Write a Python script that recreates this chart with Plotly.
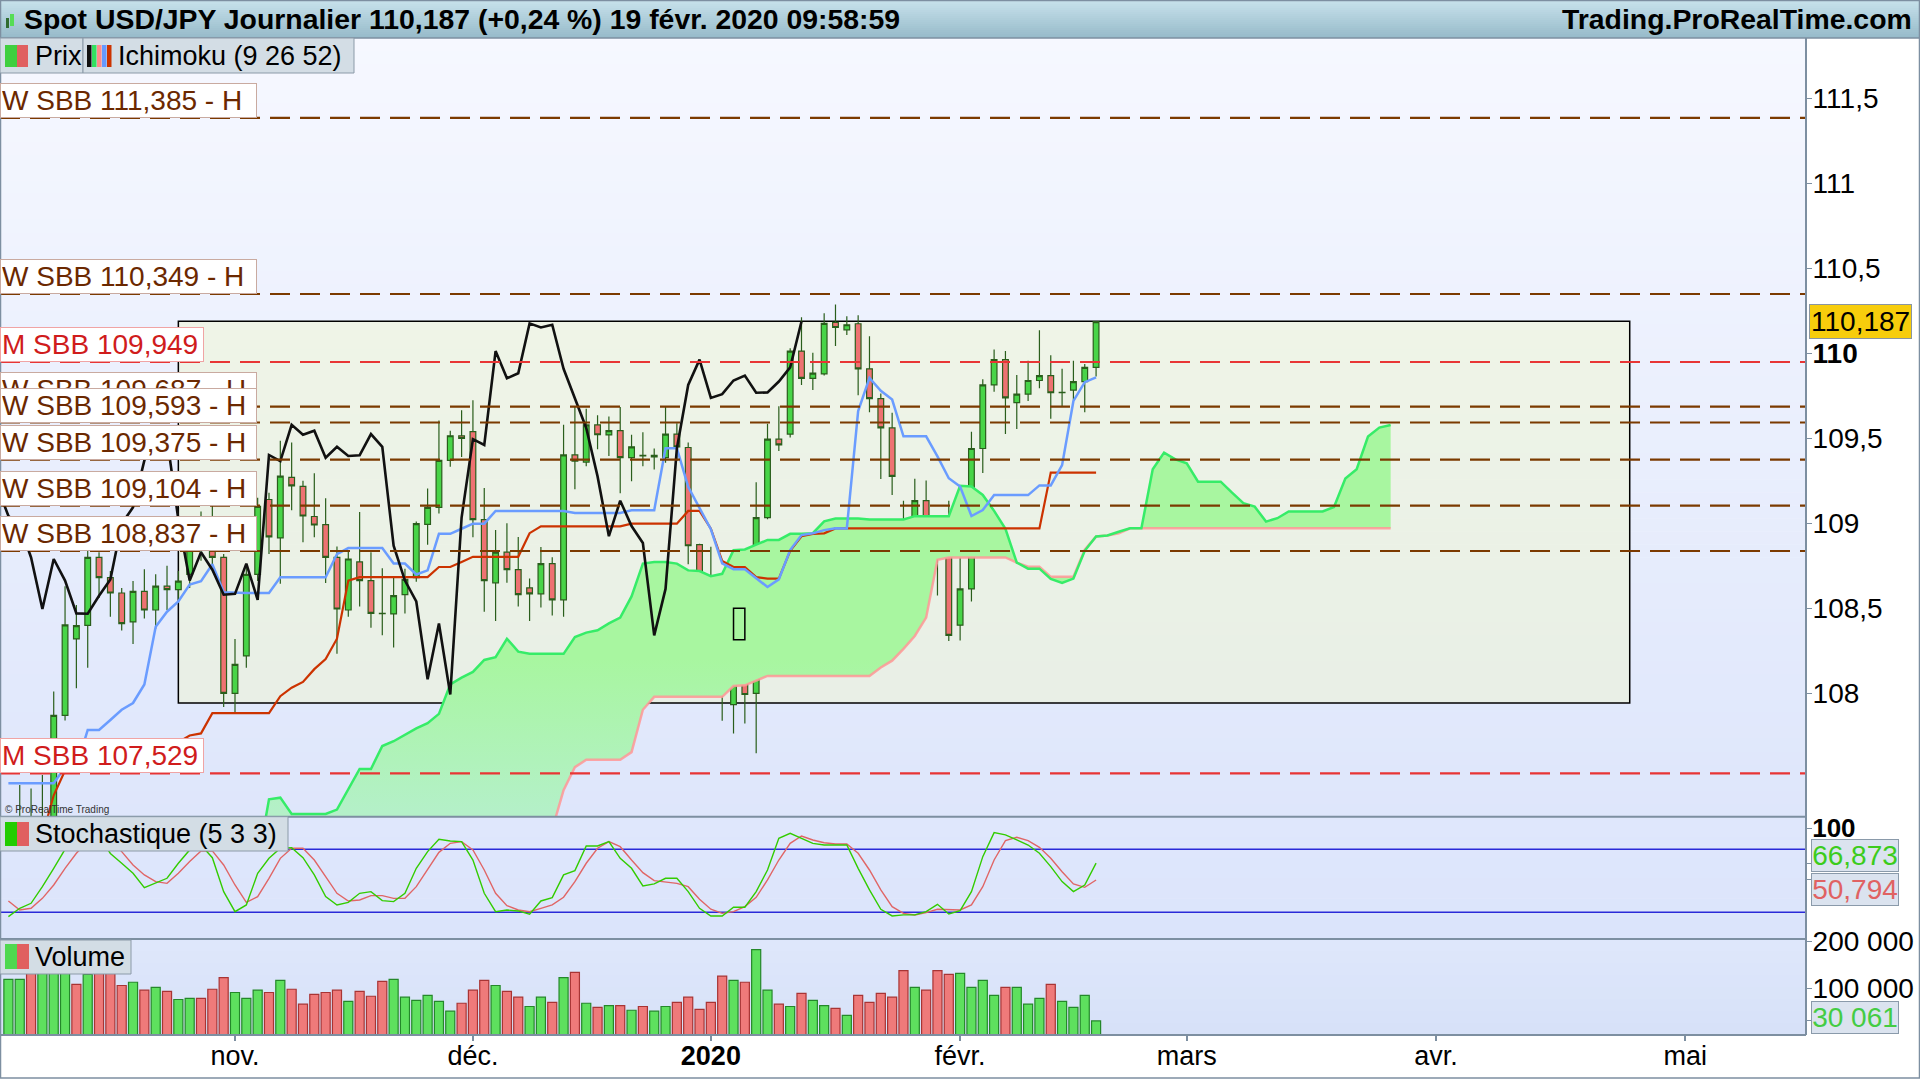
import pandas as pd
import plotly.graph_objects as go

# ---------------------------------------------------------------- data
# daily bars, Oct 4 2019 .. Feb 19 2020 (bar index -20 .. 76, index 0 = Nov 1 2019)
open_ = [106.85, 106.95, 107.22, 107.10, 107.25, 107.87, 108.32, 108.40, 108.80, 108.68,
         108.59, 108.42, 108.60, 108.49, 108.63, 108.61, 108.70, 108.96, 108.88, 108.80,
         108.00, 108.22, 108.70, 109.14, 108.914, 109.27, 109.217, 109.04, 108.992, 108.799,
         108.49, 108.773, 108.663, 108.47, 108.467, 108.58, 108.68, 108.994, 109.094, 109.37,
         109.515, 109.539, 109.022, 108.65, 108.83, 108.727, 108.62, 108.585, 108.763, 108.55,
         109.402, 109.36, 109.579, 109.52, 109.545, 109.386, 109.40, 109.39, 109.386, 109.525,
         109.446, 108.874, 108.689, 108.54, 107.933, 108.411, 107.999, 109.034, 109.495, 109.525,
         110.013, 109.853, 109.879, 110.182, 110.138, 110.174, 109.909, 109.734, 109.561, 109.004,
         108.924, 109.133, 108.984, 108.884, 108.401, 108.614, 109.44, 109.814, 109.963, 109.71,
         109.76, 109.84, 109.869, 109.768, 109.784, 109.834, 109.917]
high = [107.10, 107.46, 107.44, 107.52, 108.01, 108.63, 108.52, 108.84, 108.83, 108.72,
        108.62, 108.66, 108.73, 108.70, 108.75, 108.72, 109.00, 109.07, 109.25, 108.82,
        108.32, 108.76, 109.15, 109.18, 109.486, 109.476, 109.25, 109.294, 109.147, 108.864,
        108.84, 109.067, 108.83, 108.735, 108.689, 108.733, 109.011, 109.205, 109.605, 109.545,
        109.665, 109.724, 109.207, 108.96, 109.0, 108.92, 108.676, 108.86, 108.80, 109.58,
        109.684, 109.674, 109.635, 109.628, 109.684, 109.521, 109.535, 109.44, 109.684, 109.589,
        109.475, 108.88, 108.862, 108.564, 108.50, 108.626, 109.241, 109.585, 109.688, 110.03,
        110.212, 110.003, 110.236, 110.287, 110.218, 110.224, 110.10, 109.764, 109.65, 109.133,
        109.262, 109.252, 109.044, 109.133, 108.799, 109.539, 109.848, 110.023, 110.013, 109.873,
        109.957, 110.136, 109.989, 109.909, 109.957, 109.937, 110.187]
low = [106.50, 106.85, 106.95, 107.00, 107.15, 107.84, 108.03, 108.15, 108.56, 108.45,
       108.37, 108.29, 108.44, 108.38, 108.49, 108.55, 108.62, 108.78, 108.75, 107.92,
       107.88, 108.15, 108.66, 108.82, 108.644, 109.077, 108.888, 108.918, 108.649, 108.232,
       108.45, 108.51, 108.385, 108.341, 108.27, 108.47, 108.656, 108.874, 109.058, 109.332,
       109.39, 108.918, 108.48, 108.425, 108.65, 108.51, 108.425, 108.504, 108.457, 108.45,
       109.20, 109.336, 109.436, 109.396, 109.177, 109.247, 109.336, 109.316, 109.356, 109.366,
       108.759, 108.464, 108.206, 107.838, 107.764, 107.823, 107.647, 109.024, 109.426, 109.505,
       109.814, 109.784, 109.869, 110.043, 110.108, 109.754, 109.654, 109.26, 109.167, 108.725,
       108.745, 108.942, 108.576, 108.307, 108.311, 108.54, 109.296, 109.774, 109.525, 109.555,
       109.72, 109.794, 109.615, 109.69, 109.724, 109.654, 109.863]
close = [106.95, 107.22, 107.10, 107.25, 107.87, 108.402, 108.398, 108.80, 108.68, 108.59,
         108.41, 108.60, 108.49, 108.63, 108.61, 108.66, 108.96, 108.88, 108.80, 108.00,
         108.17, 108.70, 109.10, 108.92, 109.277, 109.22, 109.043, 108.99, 108.799, 108.496,
         108.79, 108.663, 108.47, 108.468, 108.574, 108.67, 108.998, 109.094, 109.37, 109.515,
         109.50, 109.022, 108.663, 108.83, 108.727, 108.58, 108.585, 108.763, 108.55, 109.402,
         109.366, 109.579, 109.521, 109.545, 109.386, 109.45, 109.396, 109.40, 109.525, 109.45,
         108.868, 108.663, 108.54, 108.082, 108.411, 107.993, 109.034, 109.495, 109.461, 110.013,
         109.853, 109.883, 110.176, 110.152, 110.168, 109.909, 109.734, 109.561, 109.276, 108.924,
         109.133, 108.984, 108.884, 108.341, 108.614, 109.44, 109.814, 109.963, 109.738, 109.76,
         109.84, 109.869, 109.768, 109.77, 109.834, 109.917, 110.187]
volume = [119000, 119000, 145000, 160000, 175000, 150000, 108500, 130000, 150000, 140000,
          106000, 113000, 96000, 102000, 93500, 76000, 78500, 78500, 98000, 123000,
          91000, 78500, 96000, 91000, 117000, 98000, 66000, 87000, 91000, 96000,
          72000, 93500, 83000, 115000, 119000, 81000, 74000, 85000, 72000, 51000,
          68000, 96000, 117000, 106000, 93500, 81000, 61000, 81000, 70000, 123000,
          134000, 68000, 59000, 63000, 63000, 53000, 61000, 51000, 61000, 70000,
          81000, 55000, 70000, 126000, 117000, 113000, 183000, 96000, 66000, 61000,
          89000, 74000, 63000, 57000, 42000, 85000, 70000, 89000, 81000, 138000,
          102000, 96000, 138000, 130000, 132000, 102000, 117000, 85000, 102000, 102000,
          66000, 78500, 108500, 72000, 59000, 85000, 30061]
stoch_k = [15.9, 23.8, 28.6, 44.4, 61.9, 80, 88, 95, 93, 76,
           66.7, 57.1, 43.5, 47.6, 52.4, 66.7, 79.4, 84, 72, 39.7,
           20.6, 27, 57.1, 71.4, 81, 81.6, 72.1, 55.6, 34.9, 27.0,
           29.5, 38.1, 39.7, 31.1, 30.2, 38.1, 61.9, 77.8, 89.5, 87.9,
           87.3, 69.8, 38.1, 20.6, 22.2, 21.3, 18.1, 30.8, 34.0, 55.6,
           59.7, 83.2, 83.2, 87.3, 71.4, 61.9, 45.1, 47.0, 52.4, 52.4,
           39.7, 23.8, 16.5, 16.5, 24.8, 24.8, 39.7, 60.3, 90.5, 95.2,
           90.5, 85.7, 84.1, 84.1, 84.1, 61.9, 41.3, 22.9, 16.5, 17.5,
           17.5, 20.6, 27.6, 18.4, 21.6, 39.7, 73.0, 95.9, 93.7, 88.9,
           84.1, 76.2, 63.5, 49.2, 39.7, 46.0, 66.873]
stoch_d = [30.8, 22.2, 23.8, 33.3, 46.0, 61.9, 76.2, 87.7, 92, 88,
           77.8, 65.1, 55.6, 49.2, 47.6, 57.1, 68.3, 78.4, 78.5, 65.1,
           46.0, 29.5, 34.9, 52.4, 71.4, 81, 81, 69.8, 54, 38.1,
           30.8, 31.7, 35.9, 35.9, 33.3, 33.3, 44.4, 61.0, 77.1, 85.7,
           87.3, 79.4, 60.3, 38.1, 26.3, 22.2, 20.6, 23.8, 27.0, 34.3,
           49.2, 66.7, 81, 87.3, 82.5, 69.8, 57.8, 50.2, 49.2, 47.6,
           44.4, 32.4, 22.9, 19.0, 20.6, 25.4, 34.3, 50.8, 69.8, 85.7,
           92.7, 88.9, 86.3, 85.1, 85.1, 76.2, 60.3, 41.3, 25.4, 19.0,
           17.5, 19.7, 22.9, 22.9, 22.2, 27.0, 44.4, 69.8, 88.3, 91.4,
           88.3, 81.9, 71.4, 58.7, 47.0, 43.8, 50.794]
tenkan = [107.471, 107.471, 107.471, 107.471, 107.471, 107.565, 107.565, 107.784, 107.784, 107.843,
          107.903, 107.943, 108.052, 108.391, 108.48, 108.54, 108.64, 108.66, 108.759, 108.594,
          108.59, 108.59, 108.59, 108.59, 108.683, 108.683, 108.683, 108.683, 108.683, 108.819,
          108.854, 108.854, 108.854, 108.854, 108.763, 108.763, 108.699, 108.723, 108.938, 108.938,
          108.968, 108.998, 108.998, 109.073, 109.073, 109.073, 109.073, 109.073, 109.073, 109.073,
          109.061, 109.061, 109.061, 109.061, 109.061, 109.077, 109.077, 109.077, 109.441, 109.441,
          109.215, 109.09, 108.965, 108.764, 108.73, 108.73, 108.675, 108.625, 108.67, 108.843,
          108.931, 108.941, 108.96, 108.971, 108.97, 109.66, 109.855, 109.78, 109.728, 109.512,
          109.512, 109.512, 109.394, 109.265, 109.216, 109.043, 109.078, 109.166, 109.166, 109.166,
          109.166, 109.223, 109.223, 109.342, 109.72, 109.83, 109.858]
kijun = [107.0, 107.0, 107.05, 107.16, 107.4, 107.545, 107.545, 107.596, 107.652, 107.665,
         107.685, 107.705, 107.706, 107.713, 107.71, 107.712, 107.752, 107.764, 107.883, 107.883,
         107.88, 107.88, 107.88, 107.883, 107.983, 108.033, 108.067, 108.142, 108.202, 108.321,
         108.663, 108.683, 108.683, 108.683, 108.683, 108.683, 108.683, 108.683, 108.743, 108.743,
         108.773, 108.803, 108.803, 108.803, 108.803, 108.803, 108.942, 108.982, 108.982, 108.982,
         108.982, 108.982, 108.982, 108.982, 108.982, 108.998, 108.998, 108.998, 108.998, 108.998,
         109.073, 109.073, 108.968, 108.779, 108.743, 108.743, 108.683, 108.675, 108.675, 108.838,
         108.924, 108.938, 108.941, 108.97, 108.97, 108.97, 108.97, 108.97, 108.97, 108.97,
         108.97, 108.97, 108.97, 108.97, 108.97, 108.97, 108.97, 108.97, 108.97, 108.97,
         108.97, 108.97, 109.298, 109.298, 109.298, 109.298, 109.298]
# cloud, plotted from bar index 2 to 102 (26 bars ahead of the last bar)
senkou_a = [107.00, 107.376, 107.386, 107.29, 107.29, 107.29, 107.29, 107.316, 107.436, 107.555,
            107.555, 107.69, 107.718, 107.754, 107.794, 107.824, 107.879, 108.052, 108.092, 108.126,
            108.196, 108.212, 108.321, 108.245, 108.232, 108.232, 108.232, 108.232, 108.331, 108.357,
            108.371, 108.411, 108.445, 108.57, 108.763, 108.773, 108.773, 108.763, 108.723, 108.719,
            108.689, 108.703, 108.842, 108.846, 108.874, 108.902, 108.902, 108.938, 108.938, 108.942,
            109.012, 109.028, 109.028, 109.028, 109.022, 109.022, 109.022, 109.022, 109.042, 109.042,
            109.042, 109.042, 109.221, 109.217, 109.167, 109.073, 108.968, 108.769, 108.733, 108.733,
            108.673, 108.649, 108.675, 108.838, 108.922, 108.928, 108.95, 108.971, 108.971, 109.318,
            109.416, 109.376, 109.353, 109.245, 109.245, 109.245, 109.18, 109.118, 109.098, 109.01,
            109.03, 109.07, 109.07, 109.07, 109.07, 109.096, 109.264, 109.318, 109.51, 109.563, 109.578]
senkou_b = [106.9, 106.9, 106.9, 106.9, 106.9, 106.9, 106.9, 106.9, 106.9, 106.9,
            106.9, 106.9, 106.9, 106.9, 106.9, 106.9, 106.9, 106.9, 106.9, 106.9,
            106.9, 106.9, 106.9, 106.9, 106.95, 107.05, 107.2, 107.43, 107.565, 107.609,
            107.609, 107.609, 107.609, 107.654, 107.903, 107.979, 107.979, 107.979, 107.979, 107.979,
            107.979, 107.979, 108.043, 108.047, 108.075, 108.102, 108.102, 108.102, 108.102, 108.102,
            108.102, 108.102, 108.102, 108.102, 108.102, 108.152, 108.192, 108.261, 108.337, 108.445,
            108.785, 108.799, 108.799, 108.799, 108.799, 108.799, 108.799, 108.769, 108.745, 108.745,
            108.685, 108.685, 108.685, 108.845, 108.922, 108.928, 108.941, 108.971, 108.971, 108.971,
            108.971, 108.971, 108.971, 108.971, 108.971, 108.971, 108.971, 108.971, 108.971, 108.971,
            108.971, 108.971, 108.971, 108.971, 108.971, 108.971, 108.971, 108.971, 108.971, 108.971, 108.971]
cloud_start = 2

sbb_levels = [111.385, 110.349, 109.949, 109.687, 109.593, 109.375, 109.104, 108.837, 107.529]
sbb_labels = ["W SBB 111,385 - H", "W SBB 110,349 - H", "M SBB 109,949", "W SBB 109,687 - H",
              "W SBB 109,593 - H", "W SBB 109,375 - H", "W SBB 109,104 - H", "W SBB 108,837 - H",
              "M SBB 107,529"]
sbb_kind = ["W", "W", "M", "W", "W", "W", "W", "W", "M"]

zone_x = [-5, 123.1]            # highlighted range box (bar index)
zone_y = [107.943, 110.188]
mark_x = [44, 45]               # small marker box
mark_y = [108.315, 108.50]

price_ticks = [108, 108.5, 109, 109.5, 110, 110.5, 111, 111.5]
price_ticktext = ["108", "108,5", "109", "109,5", "<b>110</b>", "110,5", "111", "111,5"]
month_labels = ["nov.", "déc.", "<b>2020</b>", "févr.", "mars", "avr.", "mai"]
title_text = "Spot USD/JPY Journalier 110,187 (+0,24 %) 19 févr. 2020 09:58:59"

# ---------------------------------------------------------------- calendar / positions
cal = pd.bdate_range("2019-10-04", "2020-05-29")
cal = cal[~cal.isin(pd.to_datetime(["2019-12-25", "2020-01-01"]))]
origin = list(cal).index(pd.Timestamp("2019-11-01"))
positions = [k - origin for k in range(len(cal))]
n = len(close)
xc = positions[:n]
month_pos = []
seen = set()
for p, d in zip(positions, cal):
    key = (d.year, d.month)
    if p >= 0 and key not in seen:
        seen.add(key)
        month_pos.append(p)
month_pos = month_pos[:len(month_labels)]
xa = [cloud_start + k for k in range(len(senkou_a))]
xb = [cloud_start + k for k in range(len(senkou_b))]
chikou_x = [p - 26 for p in xc]

# ---------------------------------------------------------------- geometry helpers
W, H = 1920, 1080
PLOT_R = 1806
def px(v): return v / W
def py(v): return 1 - v / H

Y_TOP, Y_P, Y_S, Y_V = 38, 816.7, 939, 1035
x_range = [(0 - 235) / 11.33, (PLOT_R - 235) / 11.33]

shapes, annotations = [], []

def vgrad(x0, x1, y0, y1, ctop, cbot, nb, layer="below"):
    for k in range(nb):
        t = (k + 0.5) / nb
        c = tuple(round(ctop[j] + (cbot[j] - ctop[j]) * t) for j in range(3))
        ya = y0 + (y1 - y0) * k / nb
        yb = y0 + (y1 - y0) * (k + 1) / nb + 0.6
        shapes.append(dict(type="rect", xref="paper", yref="paper", x0=px(x0), x1=px(x1),
                           y0=py(min(yb, y1)), y1=py(ya), fillcolor="rgb(%d,%d,%d)" % c,
                           line=dict(width=0), layer=layer))

# backgrounds
vgrad(0, W, 0, Y_TOP, (200, 226, 236), (150, 186, 201), 19)
vgrad(0, PLOT_R, Y_TOP, Y_P, (246, 248, 255), (222, 230, 251), 60)
vgrad(0, PLOT_R, Y_P, Y_S, (223, 231, 252), (219, 228, 251), 6)
vgrad(0, PLOT_R, Y_S, Y_V, (223, 231, 251), (214, 225, 248), 8)

# highlighted zone
shapes.append(dict(type="rect", xref="x", yref="y", x0=zone_x[0], x1=zone_x[1], y0=zone_y[0], y1=zone_y[1],
                   fillcolor="rgba(241,246,207,0.48)", line=dict(color="black", width=1.5), layer="below"))
# stochastic 80 / 20 lines
for lv in (80, 20):
    shapes.append(dict(type="line", xref="paper", yref="y2", x0=0, x1=px(PLOT_R), y0=lv, y1=lv,
                       line=dict(color="#2a2ad8", width=1.5), layer="below"))

# dashed support / resistance lines
for lv, kind in zip(sbb_levels, sbb_kind):
    col = "#7b3a00" if kind == "W" else "#e83535"
    shapes.append(dict(type="line", xref="paper", yref="y", x0=0, x1=px(PLOT_R), y0=lv, y1=lv,
                       line=dict(color=col, width=2.2, dash="20px,10px"), layer="above"))
# marker box
shapes.append(dict(type="rect", xref="x", yref="y", x0=mark_x[0], x1=mark_x[1], y0=mark_y[0], y1=mark_y[1],
                   line=dict(color="black", width=1.5), layer="above"))

# separators and borders
GRAY = "#7d8fa1"
for yy in (Y_P, Y_S, Y_V):
    shapes.append(dict(type="line", xref="paper", yref="paper", x0=0, x1=px(PLOT_R), y0=py(yy), y1=py(yy),
                       line=dict(color=GRAY, width=2), layer="above"))
shapes.append(dict(type="line", xref="paper", yref="paper", x0=px(PLOT_R), x1=px(PLOT_R), y0=py(Y_V), y1=py(Y_TOP),
                   line=dict(color=GRAY, width=2), layer="above"))
shapes.append(dict(type="line", xref="paper", yref="paper", x0=0, x1=1, y0=py(Y_TOP), y1=py(Y_TOP),
                   line=dict(color=GRAY, width=1.5), layer="above"))
shapes.append(dict(type="rect", xref="paper", yref="paper", x0=px(0.5), x1=px(W - 0.5), y0=py(1078), y1=py(0.5),
                   line=dict(color=GRAY, width=1.5), layer="above"))

# legend boxes (rect + icons)
def legend_box(x0, x1, y0, y1):
    shapes.append(dict(type="rect", xref="paper", yref="paper", x0=px(x0), x1=px(x1), y0=py(y1), y1=py(y0),
                       fillcolor="#d3dde5", line=dict(color="#8b9aa8", width=1), layer="above"))
def icon(x0, x1, y0, y1, col):
    shapes.append(dict(type="rect", xref="paper", yref="paper", x0=px(x0), x1=px(x1), y0=py(y1), y1=py(y0),
                       fillcolor=col, line=dict(width=0), layer="above"))

legend_box(0, 83, Y_TOP, 73)
icon(5, 17, 45, 67, "#3fcf3f"); icon(17, 28, 45, 67, "#e06060")
legend_box(83, 354, Y_TOP, 73)
for k, c in enumerate(["#111111", "#33e060", "#ff8a8a", "#6699ff", "#cc3300"]):
    icon(87 + 5 * k, 91.5 + 5 * k, 45, 67, c)
legend_box(0, 288, Y_P, 851)
icon(5, 17, 822, 846, "#22cc00"); icon(17, 29, 822, 846, "#e06060")
legend_box(0, 131, 940, 974)
icon(5, 17, 944, 969, "#4fd84f"); icon(17, 29, 944, 969, "#e06060")
# title icon
icon(6, 9, 18, 28, "#2f6b2f"); icon(10, 14, 14, 26, "#55dd55")

# ---------------------------------------------------------------- traces
traces = []
traces.append(go.Scatter(x=xb, y=senkou_b, mode="lines", line=dict(color="rgba(255,150,150,0.85)", width=2.5),
                         hoverinfo="skip", xaxis="x", yaxis="y"))
traces.append(go.Scatter(x=xa, y=senkou_a, mode="lines", line=dict(color="#36ec68", width=2.5),
                         fill="tonexty", fillcolor="rgba(168,245,162,1)",
                         fillgradient=dict(type="vertical", start=107.3, stop=108.2,
                                           colorscale=[[0, "rgb(180,240,200)"], [1, "rgb(168,246,160)"]]),
                         hoverinfo="skip", xaxis="x", yaxis="y"))
traces.append(go.Candlestick(x=xc, open=open_, high=high, low=low, close=close,
                             increasing=dict(line=dict(color="#2a5e1c", width=1.2), fillcolor="#48d448"),
                             decreasing=dict(line=dict(color="#2a5e1c", width=1.2), fillcolor="#ee7272"),
                             whiskerwidth=0, xaxis="x", yaxis="y"))
traces.append(go.Scatter(x=xc, y=kijun, mode="lines", line=dict(color="#cc3300", width=2.2),
                         hoverinfo="skip", xaxis="x", yaxis="y"))
traces.append(go.Scatter(x=xc, y=tenkan, mode="lines", line=dict(color="#6a9cff", width=2.5),
                         hoverinfo="skip", xaxis="x", yaxis="y"))
traces.append(go.Scatter(x=chikou_x, y=close, mode="lines", line=dict(color="#111111", width=2.6),
                         hoverinfo="skip", xaxis="x", yaxis="y"))
# stochastic
traces.append(go.Scatter(x=xc, y=stoch_d, mode="lines", line=dict(color="#e06666", width=1.4),
                         xaxis="x2", yaxis="y2"))
traces.append(go.Scatter(x=xc, y=stoch_k, mode="lines", line=dict(color="#33cc00", width=1.4),
                         xaxis="x2", yaxis="y2"))
# volume (coloured by close vs previous close)
vcol, vedge = [], []
for k in range(n):
    up = True if k == 0 else close[k] >= close[k - 1]
    vcol.append("#5ee05e" if up else "#ef7a7a")
    vedge.append("#24882a" if up else "#a83434")
traces.append(go.Bar(x=xc, y=volume, marker=dict(color=vcol, line=dict(color=vedge, width=1.2)),
                     width=0.8, xaxis="x3", yaxis="y3"))

fig = go.Figure(data=traces)

# ---------------------------------------------------------------- annotations
FONT = "Liberation Sans, Arial, sans-serif"
annotations.append(dict(text=title_text, xref="paper", yref="paper", x=px(22), y=py(19), xanchor="left",
                        yanchor="middle", showarrow=False,
                        font=dict(family=FONT, size=28.4, color="black", weight="bold")))
annotations.append(dict(text="Trading.ProRealTime.com", xref="paper", yref="paper", x=px(1914), y=py(19),
                        xanchor="right", yanchor="middle", showarrow=False,
                        font=dict(family=FONT, size=28.4, color="black", weight="bold")))
for txt, xx, yy in (("Prix", 33, 55.5), ("Ichimoku (9 26 52)", 116, 55.5),
                    ("Stochastique (5 3 3)", 33, 834), ("Volume", 33, 957)):
    annotations.append(dict(text=txt, xref="paper", yref="paper", x=px(xx), y=py(yy), xanchor="left",
                            yanchor="middle", showarrow=False, font=dict(family=FONT, size=27, color="black")))
for lv, txt, kind in zip(sbb_levels, sbb_labels, sbb_kind):
    if kind == "W":
        fc, bc, wd = "#6b2800", "#c9aaa0", 253
    else:
        fc, bc, wd = "#d01c1c", "#f0a4a4", 200
    annotations.append(dict(text=txt, xref="paper", yref="y", x=0, y=lv, xanchor="left", yanchor="bottom",
                            showarrow=False, align="left", width=wd, bgcolor="white", bordercolor=bc,
                            borderwidth=1, borderpad=1, font=dict(family=FONT, size=28, color=fc)))
annotations.append(dict(text="© ProRealTime Trading", xref="paper", yref="paper", x=px(3), y=py(809),
                        xanchor="left", yanchor="middle", showarrow=False,
                        font=dict(family=FONT, size=10, color="#333333")))
# value tags on the right
annotations.append(dict(text="110,187", xref="paper", yref="y", x=px(1809), y=close[-1], xanchor="left",
                        yanchor="middle", showarrow=False, bgcolor="#f7cd0c", bordercolor="#8a96a0",
                        borderwidth=1, borderpad=1, font=dict(family=FONT, size=28, color="black")))
for txt, yy, col in (("66,873", 855.5, "#3ccc1c"), ("50,794", 889.5, "#e06262"), ("30 061", 1017.5, "#44cc44")):
    annotations.append(dict(text=txt, xref="paper", yref="paper", x=px(1811), y=py(yy), xanchor="left",
                            yanchor="middle", showarrow=False, bgcolor="#dbe3ef", bordercolor="#8a9aaa",
                            borderwidth=1, borderpad=0, width=86, font=dict(family=FONT, size=28, color=col)))

# ---------------------------------------------------------------- layout
dom_x = [0, px(PLOT_R)]
axfont = dict(family=FONT, size=28, color="black")
common_x = dict(domain=dom_x, range=x_range, showgrid=False, zeroline=False, showline=False, automargin=False)
fig.update_layout(
    width=W, height=H, margin=dict(l=0, r=0, t=0, b=0, pad=0, autoexpand=False), autosize=False,
    paper_bgcolor="white", plot_bgcolor="rgba(0,0,0,0)", showlegend=False,
    font=dict(family=FONT), boxgap=0.28, bargap=0.2,
    xaxis=dict(**common_x, anchor="y", showticklabels=False, ticks="", rangeslider=dict(visible=False)),
    xaxis2=dict(**common_x, anchor="y2", matches="x", showticklabels=False, ticks=""),
    xaxis3=dict(**common_x, anchor="y3", matches="x", tickmode="array", tickvals=month_pos,
                ticktext=month_labels, ticks="outside", ticklen=5, tickcolor=GRAY, tickwidth=1.5,
                ticklabelstandoff=-8, tickfont=dict(family=FONT, size=27, color="black")),
    yaxis=dict(domain=[py(Y_P), py(Y_TOP)], range=[107.274, 111.855], side="right", anchor="x",
               tickmode="array", tickvals=price_ticks, ticktext=price_ticktext, ticks="outside", ticklen=5,
               ticklabelstandoff=-5, tickcolor=GRAY, showgrid=False, zeroline=False, tickfont=axfont,
               automargin=False),
    yaxis2=dict(domain=[py(Y_S), py(Y_P)], range=[-5.43, 111.05], side="right", anchor="x2",
                tickmode="array", tickvals=[100, stoch_k[-1], stoch_d[-1]], ticktext=["<b>100</b>", "", ""],
                ticks="outside", ticklen=5, ticklabelstandoff=-5, tickcolor=GRAY, showgrid=False,
                zeroline=False, automargin=False, tickfont=dict(family=FONT, size=26, color="black")),
    yaxis3=dict(domain=[py(Y_V), py(Y_S)], range=[0, 205600], side="right", anchor="x3",
                tickmode="array", tickvals=[200000, 100000, volume[-1]], ticktext=["200 000", "100 000", ""],
                ticks="outside", ticklen=5, ticklabelstandoff=-5, tickcolor=GRAY, showgrid=False,
                zeroline=False, tickfont=axfont, automargin=False),
    shapes=shapes, annotations=annotations,
)

fig.write_html("out.html", config={"displayModeBar": False},
               post_script="document.body.style.margin='0px';"
                           "var d=document.getElementById('{plot_id}');"
                           "d.style.position='absolute';d.style.left='0px';d.style.top='0px';")
